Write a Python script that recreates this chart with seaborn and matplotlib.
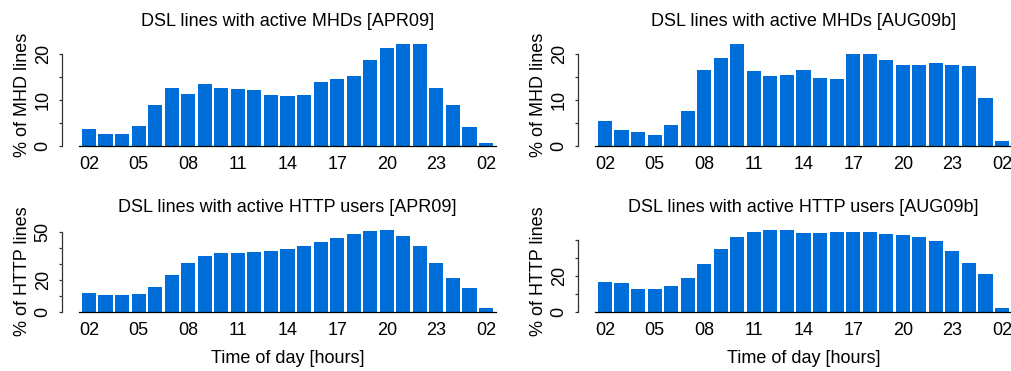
import matplotlib
matplotlib.use("Agg")
import matplotlib.pyplot as plt
import seaborn as sns

# ---------------- data ----------------
hours = ["02", "03", "04", "05", "06", "07", "08", "09", "10", "11", "12", "13",
         "14", "15", "16", "17", "18", "19", "20", "21", "22", "23", "00", "01", "02"]

mhd_apr09 = [3.6, 2.5, 2.5, 4.3, 8.8, 12.5, 11.2, 13.4, 12.5, 12.3, 12.1, 11.0,
             10.8, 11.0, 13.8, 14.5, 15.1, 18.6, 21.2, 22.2, 22.2, 12.5, 8.8, 4.1, 0.6]
mhd_aug09b = [5.4, 3.4, 3.0, 2.3, 4.5, 7.6, 16.6, 19.2, 22.3, 16.4, 15.3, 15.5,
              16.6, 14.8, 14.6, 20.1, 20.1, 18.8, 17.7, 17.7, 18.1, 17.7, 17.4, 10.4, 1.0]
http_apr09 = [11.7, 10.4, 10.4, 11.0, 15.4, 22.9, 30.4, 34.8, 36.7, 36.7, 37.3, 37.9,
              39.2, 41.0, 43.5, 46.0, 48.5, 50.4, 51.0, 47.3, 41.0, 30.4, 21.0, 14.8, 2.3]
http_aug09b = [16.5, 15.9, 12.6, 12.6, 14.3, 18.7, 26.5, 34.8, 41.5, 44.3, 45.4, 45.4,
               43.7, 43.7, 44.3, 44.3, 44.3, 43.1, 42.6, 41.5, 39.3, 33.7, 27.0, 20.9, 2.0]

titles = ["DSL lines with active MHDs [APR09]", "DSL lines with active MHDs [AUG09b]",
          "DSL lines with active HTTP users [APR09]", "DSL lines with active HTTP users [AUG09b]"]
ylabels = ["% of MHD lines", "% of MHD lines", "% of HTTP lines", "% of HTTP lines"]
xlabel_text = "Time of day [hours]"

xtick_idx = [0, 3, 6, 9, 12, 15, 18, 21, 24]

yticks_mhd = [0, 5, 10, 15, 20]
ytlabels_mhd = ["0", "", "10", "", "20"]
yticks_http_apr = [0, 10, 20, 30, 40, 50]
ytlabels_http_apr = ["0", "", "20", "", "", "50"]
yticks_http_aug = [0, 10, 20, 30, 40]
ytlabels_http_aug = ["0", "", "20", "", ""]

BAR = "#006ED9"
AXC = "#333333"

# ---------------- style ----------------
sns.set_style("white")
plt.rcParams["font.family"] = ["Liberation Sans", "DejaVu Sans"]
plt.rcParams["font.size"] = 13
plt.rcParams["text.color"] = "black"
plt.rcParams["axes.labelcolor"] = "black"
plt.rcParams["axes.titlecolor"] = "black"
plt.rcParams["xtick.labelcolor"] = "black"
plt.rcParams["ytick.labelcolor"] = "black"

W, H = 1012, 371
fig = plt.figure(figsize=(W / 100, H / 100), dpi=100)


def rect(x0, x1, ytop, ybot):
    return [x0 / W, (H - ybot) / H, (x1 - x0) / W, (ybot - ytop) / H]


def panel(r, vals, title, yt, ytl, ylab, xlab=None):
    ax = fig.add_axes(r)
    sns.barplot(x=list(range(len(hours))), y=vals, color=BAR, width=0.85,
                saturation=1, linewidth=0, ax=ax)
    ax.set_xlim(-0.6, len(hours) - 0.4)
    ax.set_ylim(0, max(vals))
    for s in ("top", "right"):
        ax.spines[s].set_visible(False)
    ax.spines["left"].set_position(("outward", 12.5))
    ax.spines["left"].set_bounds(yt[0], yt[-1])
    ax.spines["left"].set_color(AXC)
    ax.spines["left"].set_linewidth(0.9)
    ax.spines["bottom"].set_color("black")
    ax.spines["bottom"].set_linewidth(0.9)

    ax.set_xticks(xtick_idx)
    ax.set_xticklabels([hours[i] for i in xtick_idx])
    ax.tick_params(axis="x", length=0, pad=7.5, labelsize=13, labelcolor="black")
    ax.set_yticks(yt)
    ax.set_yticklabels(ytl)
    ax.tick_params(axis="y", length=2.2, width=0.9, color=AXC, pad=5,
                   labelsize=13, labelrotation=90, left=True, labelcolor="black")
    for lab in ax.get_yticklabels():
        lab.set_va("center")

    ax.set_title(title, fontsize=13, pad=13, color="black")
    ax.set_ylabel(ylab, fontsize=13, color="black")
    ax.yaxis.label.set_va("center")
    ax.yaxis.set_label_coords(-0.135, 0.5)
    if xlab:
        ax.set_xlabel(xlab, fontsize=13, color="black")
        h = r[3] * H
        ax.xaxis.set_label_coords(0.5, -38.0 / h)
    else:
        ax.set_xlabel("")
    return ax


panel(rect(79, 496, 43.6, 145.7), mhd_apr09, titles[0], yticks_mhd, ytlabels_mhd, ylabels[0])
panel(rect(595, 1012, 43.6, 145.7), mhd_aug09b, titles[1], yticks_mhd, ytlabels_mhd, ylabels[1])
panel(rect(79, 496, 230.2, 311.7), http_apr09, titles[2], yticks_http_apr, ytlabels_http_apr,
      ylabels[2], xlabel_text)
panel(rect(595, 1012, 230.2, 311.7), http_aug09b, titles[3], yticks_http_aug, ytlabels_http_aug,
      ylabels[3], xlabel_text)

fig.savefig("out.png", dpi=100)
